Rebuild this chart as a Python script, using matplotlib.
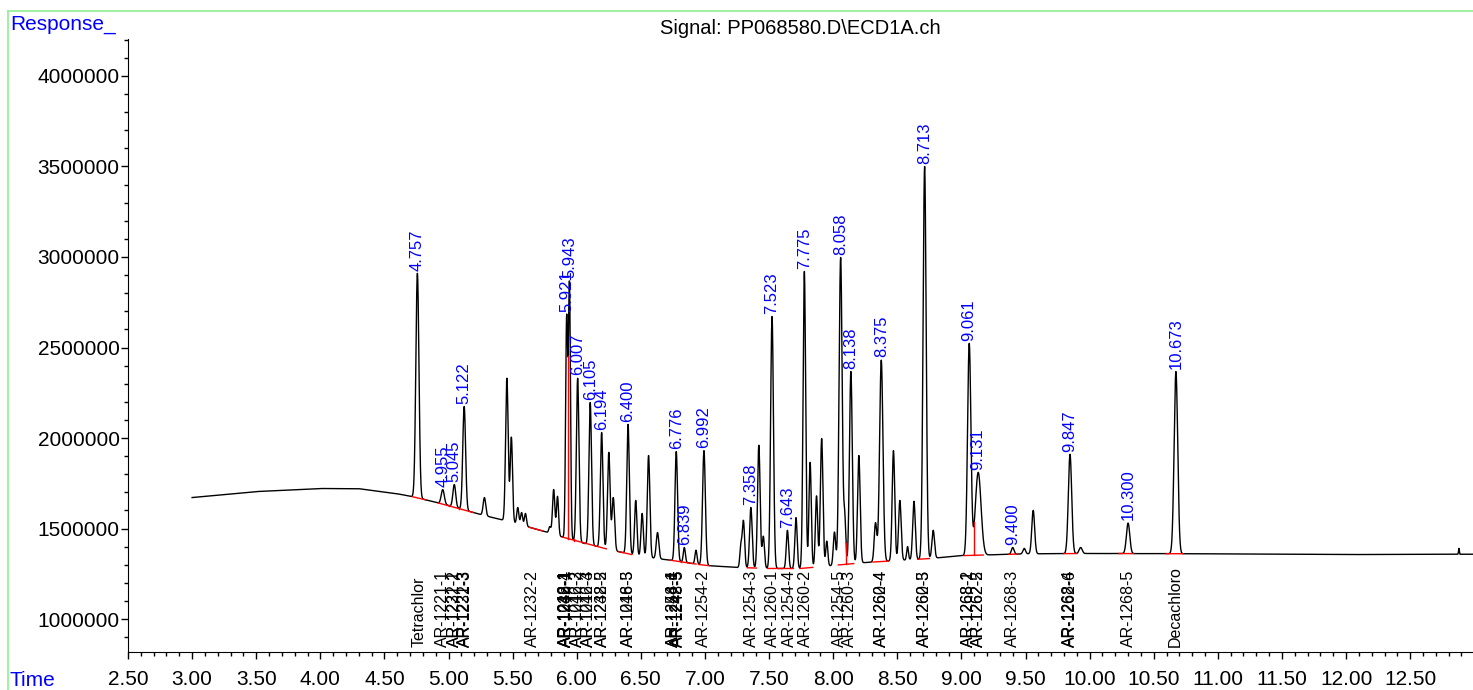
import numpy as np
import matplotlib.pyplot as plt
from matplotlib.ticker import MultipleLocator, FormatStrFormatter
from matplotlib.lines import Line2D

plt.rcParams['font.family'] = ['Liberation Sans', 'DejaVu Sans']

# baseline drift of the detector (min, response)
base_t = [3.0, 3.5, 4.0, 4.3, 4.6, 4.75, 5.0, 5.25, 5.5, 5.75, 6.0, 6.25, 6.5,
          6.75, 7.0, 7.25, 7.5, 7.75, 8.0, 8.25, 8.5, 8.75, 9.0, 9.5, 10.0,
          11.0, 12.0, 12.99]
base_y = [1671000, 1704000, 1721000, 1720000, 1692000, 1671000, 1627000,
          1577000, 1533000, 1483000, 1428000, 1384000, 1345000, 1323000,
          1296000, 1285000, 1279000, 1279000, 1296000, 1312000, 1323000,
          1334000, 1350000, 1360000, 1362000, 1360000, 1356000, 1358000]

# integrated (labelled) peaks: retention time, apex response, width (sigma, min)
rt_lab = [4.757, 4.955, 5.045, 5.122, 5.921, 5.943, 6.007, 6.105, 6.194, 6.400,
          6.776, 6.839, 6.992, 7.358, 7.523, 7.643, 7.775, 8.058, 8.138, 8.375,
          8.713, 9.061, 9.131, 9.400, 9.847, 10.300, 10.673]
apex_lab = [2910000, 1715000, 1743000, 2174000, 2650000, 2840000, 2330000,
            2196000, 2030000, 2075000, 1925000, 1395000, 1930000, 1616000,
            2671000, 1490000, 2920000, 2997000, 2367000, 2430000, 3500000,
            2520000, 1810000, 1395000, 1910000, 1530000, 2367000]
sig_lab = [0.012, 0.012, 0.011, 0.011, 0.008, 0.008, 0.010, 0.010, 0.010, 0.010,
           0.010, 0.008, 0.011, 0.010, 0.011, 0.009, 0.010, 0.012, 0.011, 0.013,
           0.012, 0.013, 0.022, 0.010, 0.013, 0.013, 0.014]

# other peaks in the trace
rt_oth = [5.28, 5.455, 5.49, 5.54, 5.57, 5.60, 5.79, 5.82, 5.85, 6.25, 6.285,
          6.46, 6.51, 6.56, 6.63, 6.93, 7.28, 7.30, 7.42, 7.455, 7.71, 7.82,
          7.87, 7.91, 7.95, 8.01, 8.09, 8.20, 8.33, 8.47, 8.52, 8.58, 8.63,
          8.78, 9.49, 9.56, 9.93, 12.88]
apex_oth = [1671000, 2330000, 2003000, 1616000, 1588000, 1583000, 1510000,
            1715000, 1677000, 1920000, 1670000, 1655000, 1583000, 1903000,
            1478000, 1380000, 1400000, 1540000, 1960000, 1456000, 1560000,
            1865000, 1680000, 1997000, 1430000, 1480000, 1550000, 1903000,
            1530000, 1930000, 1655000, 1400000, 1650000, 1490000, 1390000,
            1600000, 1395000, 1390000]
sig_oth = [0.010, 0.010, 0.009, 0.008, 0.008, 0.008, 0.008, 0.009, 0.008, 0.010,
           0.010, 0.009, 0.009, 0.010, 0.010, 0.008, 0.008, 0.009, 0.010, 0.009,
           0.009, 0.009, 0.009, 0.010, 0.008, 0.009, 0.008, 0.010, 0.010, 0.010,
           0.010, 0.007, 0.010, 0.010, 0.010, 0.011, 0.012, 0.003]

# integration baselines (red) and drop lines
int_start = [4.72, 4.92, 5.63, 5.89, 6.33, 6.73, 6.95, 7.33, 7.49, 7.74, 8.04,
             8.31, 8.66, 9.02, 9.37, 9.80, 10.23, 10.60]
int_end = [4.82, 5.19, 5.73, 6.23, 6.43, 6.93, 7.03, 7.40, 7.69, 7.84, 8.16,
           8.43, 8.75, 9.17, 9.43, 9.90, 10.34, 10.73]
drop_t = [5.00, 5.085, 5.932, 5.975, 6.06, 6.15, 6.81, 7.60, 8.10, 9.10]

# compound names at expected retention times
cmp_t = [4.77, 4.955, 5.045, 5.048, 5.125, 5.129, 5.655,
         5.912, 5.915, 5.918, 5.921, 6.006, 6.009, 6.092, 6.095, 6.201, 6.204,
         6.404, 6.407, 6.755, 6.758, 6.788, 6.791, 6.99, 7.36, 7.53, 7.66,
         7.78, 8.05, 8.13, 8.375, 8.378, 8.71, 8.713, 9.055, 9.058, 9.13,
         9.133, 9.40, 9.845, 9.848, 10.30, 10.665]
cmp_name = ['Tetrachlor', 'AR-1221-1', 'AR-1221-2', 'AR-1232-1', 'AR-1221-3',
            'AR-1232-3', 'AR-1232-2',
            'AR-1016-1', 'AR-1242-1', 'AR-1248-1', 'AR-1232-4', 'AR-1016-2',
            'AR-1242-3', 'AR-1016-3', 'AR-1242-4', 'AR-1248-2', 'AR-1232-5',
            'AR-1016-5', 'AR-1248-3', 'AR-1248-4', 'AR-1254-1', 'AR-1242-5',
            'AR-1248-5', 'AR-1254-2', 'AR-1254-3', 'AR-1260-1', 'AR-1254-4',
            'AR-1260-2', 'AR-1254-5', 'AR-1260-3', 'AR-1260-4', 'AR-1262-4',
            'AR-1260-5', 'AR-1262-3', 'AR-1268-1', 'AR-1268-2', 'AR-1262-2',
            'AR-1262-5', 'AR-1268-3', 'AR-1268-4', 'AR-1262-6', 'AR-1268-5',
            'Decachloro']

t = np.arange(3.0, 12.99, 0.001)


def base_at(x):
    return np.interp(x, base_t, base_y)


def trace_at(x):
    y = base_at(x)
    for rt, top, s in zip(rt_lab + rt_oth, apex_lab + apex_oth, sig_lab + sig_oth):
        h = top - base_at(rt)
        y = y + h * np.exp(-0.5 * ((x - rt) / s) ** 2)
    return y


signal = trace_at(t)

fig = plt.figure(figsize=(14.73, 6.9), dpi=100)
ax = fig.add_axes([128 / 1473, 38 / 690, 1 - 128 / 1473, 613 / 690])

ax.plot(t, signal, color='black', lw=1.0, zorder=3)

# red integration lines
for a, b in zip(int_start, int_end):
    ax.plot([a, b], [base_at(a), base_at(b)], color='red', lw=1.0, zorder=4)
for d in drop_t:
    ax.plot([d, d], [base_at(d), trace_at(d)], color='red', lw=1.0, zorder=4)

# retention time labels
for rt in rt_lab:
    ax.annotate(f'{rt:.3f}', (rt, trace_at(rt)), xytext=(0, 2),
                textcoords='offset points', rotation=90, ha='center',
                va='bottom', color='blue', fontsize=12, zorder=5)

# compound names
for x, name in zip(cmp_t, cmp_name):
    ax.text(x, 0.008, name, transform=ax.get_xaxis_transform(), rotation=90,
            ha='center', va='bottom', fontsize=11.5, color='black')

ax.set_xlim(2.5, 12.99)
ax.set_ylim(817700, 4204400)
ax.xaxis.set_major_locator(MultipleLocator(0.5))
ax.xaxis.set_minor_locator(MultipleLocator(0.1))
ax.xaxis.set_major_formatter(FormatStrFormatter('%.2f'))
ax.yaxis.set_major_locator(MultipleLocator(500000))
ax.yaxis.set_minor_locator(MultipleLocator(100000))
ax.yaxis.set_major_formatter(FormatStrFormatter('%d'))
ax.tick_params(which='major', length=5, width=1, labelsize=15, pad=1)
ax.tick_params(axis='x', which='major', pad=8)
ax.tick_params(which='minor', length=3, width=1)
ax.spines['top'].set_visible(False)
ax.spines['right'].set_visible(False)

# green frame and header texts
fig.add_artist(Line2D([8 / 1473, 1], [1 - 11 / 690, 1 - 11 / 690],
                      color='#90ee90', lw=1.2))
fig.add_artist(Line2D([8 / 1473, 8 / 1473], [0, 1 - 11 / 690],
                      color='#90ee90', lw=1.2))
fig.text(10 / 1473, 1 - 25 / 690, 'Response_', color='blue', fontsize=15,
         ha='left', va='center')
fig.text(10 / 1473, 1 - 680 / 690, 'Time', color='blue', fontsize=15,
         ha='left', va='center')
fig.text(800 / 1473, 1 - 28 / 690, 'Signal: PP068580.D\\ECD1A.ch',
         color='black', fontsize=14.5, ha='center', va='center')

fig.savefig('out.png', dpi=100)
